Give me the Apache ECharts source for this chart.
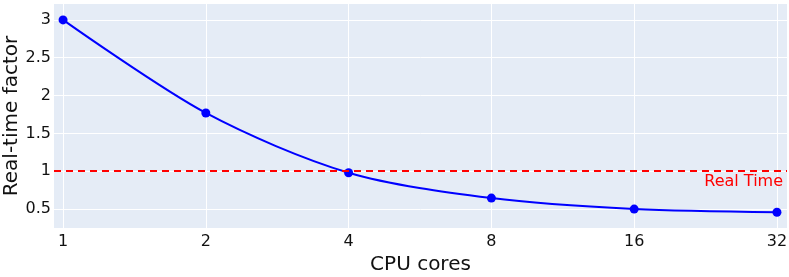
<!DOCTYPE html>
<html><head><meta charset="utf-8">
<script src="https://cdn.jsdelivr.net/npm/echarts@6/dist/echarts.min.js"></script>
<style>html,body{margin:0;padding:0;background:#fff}#c{width:789px;height:277px}</style>
</head><body><div id="c"></div>
<script>
var cores = [1, 2, 4, 8, 16, 32];
var rtf = [3.0, 1.77, 0.98, 0.645, 0.5, 0.458];
var realTime = 1;
var xTitle = 'CPU cores';
var yTitle = 'Real-time factor';
var refLabel = 'Real Time';

var chart = echarts.init(document.getElementById('c'), null, {renderer: 'canvas'});
var font = 'DejaVu Sans';
chart.setOption({
  animation: false,
  grid: {left: 54, right: 2, top: 4, bottom: 49, show: true, backgroundColor: '#e5ecf6', borderWidth: 0,
         containLabel: false, outerBoundsMode: 'none'},
  xAxis: {
    type: 'log', logBase: 2, min: 0.957, max: 33.6,
    name: xTitle, nameLocation: 'middle', nameGap: 27, nameMoveOverlap: false,
    nameTextStyle: {fontFamily: font, fontSize: 20, color: '#111'},
    axisLine: {show: false}, axisTick: {show: false},
    axisLabel: {fontFamily: font, fontSize: 16, color: '#111', margin: 6, showMinLabel: false, showMaxLabel: false},
    splitLine: {show: true, showMinLine: false, showMaxLine: false, lineStyle: {color: '#ffffff', width: 1}}
  },
  yAxis: {
    type: 'value', min: 0.25, max: 3.21,
    name: yTitle, nameLocation: 'middle', nameGap: 32, nameMoveOverlap: false,
    nameTextStyle: {fontFamily: font, fontSize: 20, color: '#111'},
    axisLine: {show: false}, axisTick: {show: false},
    axisLabel: {fontFamily: font, fontSize: 16, color: '#111', margin: 3, showMinLabel: false, showMaxLabel: false},
    splitLine: {show: true, showMinLine: false, showMaxLine: false, lineStyle: {color: '#ffffff', width: 1}}
  },
  series: [{
    type: 'line',
    data: cores.map(function (c, i) { return [c, rtf[i]]; }),
    smooth: 0.3,
    symbol: 'circle', symbolSize: 9,
    itemStyle: {color: '#0000ff'},
    lineStyle: {color: '#0000ff', width: 2},
    markLine: {
      silent: true, symbol: 'none',
      lineStyle: {color: '#ff0000', type: [7, 5], width: 2},
      label: {show: true, position: 'insideEndBottom', formatter: refLabel, color: '#ff0000', fontFamily: font, fontSize: 16, distance: [4, 3]},
      data: [{yAxis: realTime}]
    }
  }]
});
</script></body></html>
